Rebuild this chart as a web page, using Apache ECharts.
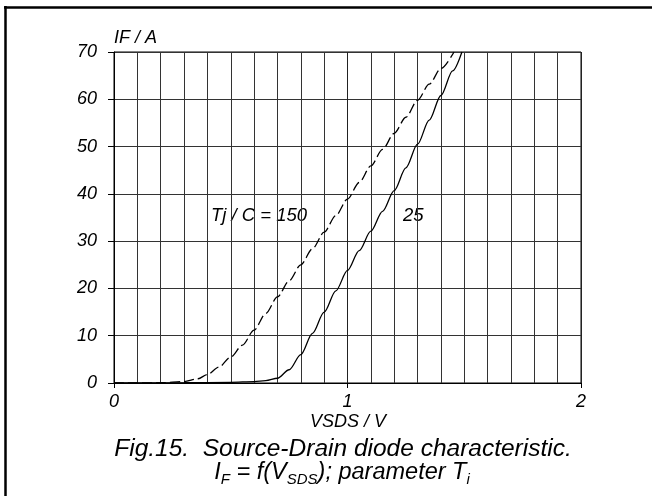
<!DOCTYPE html>
<html>
<head>
<meta charset="utf-8">
<script src="https://cdn.jsdelivr.net/npm/echarts@6/dist/echarts.min.js"></script>
<style>
html,body{margin:0;padding:0;background:#fff;}
#c{width:652px;height:496px;}
</style>
</head>
<body>
<div id="c"></div>
<script>
// Forward voltage V_SDS (V) and current I_F (A), Tj = 25 °C (solid)
var vf25 = [0, 0.3, 0.5, 0.6, 0.65, 0.7, 0.75, 0.8, 0.85, 0.9, 0.95, 1.0, 1.05, 1.1, 1.15, 1.2, 1.25, 1.3, 1.35, 1.4, 1.45, 1.49];
var if25 = [0, 0.05, 0.15, 0.3, 0.5, 1.0, 2.8, 6.0, 10.5, 15.0, 19.5, 23.8, 28.0, 32.1, 36.3, 40.7, 45.5, 50.5, 55.6, 60.8, 66.0, 70.0];
// Tj = 150 °C (dashed)
var vf150 = [0, 0.2, 0.3, 0.36, 0.4, 0.45, 0.5, 0.55, 0.6, 0.65, 0.7, 0.75, 0.8, 0.85, 0.9, 0.95, 1.0, 1.05, 1.1, 1.15, 1.2, 1.25, 1.3, 1.35, 1.4, 1.456];
var if150 = [0, 0.05, 0.3, 0.9, 1.8, 3.4, 5.5, 8.0, 11.2, 14.7, 18.2, 21.6, 25.0, 28.4, 31.9, 35.4, 38.9, 42.4, 45.9, 49.4, 52.8, 56.2, 59.8, 63.2, 66.5, 70.0];
// axis ranges / ticks
var xMin = 0, xMax = 2, xStep = 1, xMinorSplits = 10;
var yMin = 0, yMax = 70, yStep = 10;

function pairs(xs, ys){ return xs.map(function(x,i){ return [x, ys[i]]; }); }

var FONT = 'Liberation Sans, Arial, Helvetica, sans-serif';
var chart = echarts.init(document.getElementById('c'), null, {renderer:'canvas'});
chart.setOption({
  backgroundColor: '#fff',
  animation: false,
  grid: {left:114, right:71, top:52, bottom:113, show:true, borderColor:'#000', borderWidth:1, backgroundColor:'transparent', outerBoundsMode:'none'},
  xAxis: {
    type:'value', min:xMin, max:xMax, interval:xStep,
    axisLine:{show:true, lineStyle:{color:'#000', width:1}},
    axisTick:{show:true, length:5, lineStyle:{color:'#000'}},
    minorTick:{show:false, splitNumber:xMinorSplits},
    splitLine:{show:true, lineStyle:{color:'#222', width:1}},
    minorSplitLine:{show:true, lineStyle:{color:'#333', width:1}},
    axisLabel:{margin:10, color:'#000', fontSize:18, fontStyle:'italic', fontFamily:FONT}
  },
  yAxis: {
    type:'value', min:yMin, max:yMax, interval:yStep,
    axisLine:{show:true, lineStyle:{color:'#000', width:1}},
    axisTick:{show:true, length:6, lineStyle:{color:'#000'}},
    splitLine:{show:true, lineStyle:{color:'#333', width:1}},
    axisLabel:{margin:17, color:'#000', fontSize:18, fontStyle:'italic', fontFamily:FONT}
  },
  series: [
    {type:'line', name:'25', data:pairs(vf25, if25), showSymbol:false, smooth:0.3, smoothMonotone:'x',
     lineStyle:{color:'#000', width:1.3}},
    {type:'line', name:'150', data:pairs(vf150, if150), showSymbol:false, smooth:0.3, smoothMonotone:'x',
     lineStyle:{color:'#000', width:1.3, type:[10,4]}}
  ],
  graphic: [
    {type:'line', shape:{x1:5.5, y1:6, x2:5.5, y2:496}, style:{stroke:'#000', lineWidth:2.5}},
    {type:'line', shape:{x1:4, y1:7.5, x2:652, y2:7.5}, style:{stroke:'#000', lineWidth:2.5}},
    {type:'text', x:114, y:38, style:{text:'IF / A', fill:'#000', font:'italic 18px ' + FONT, textAlign:'left', textVerticalAlign:'middle'}},
    {type:'text', x:348, y:422, style:{text:'VSDS / V', fill:'#000', font:'italic 18px ' + FONT, textAlign:'center', textVerticalAlign:'middle'}},
    {type:'text', x:211, y:216, style:{text:'Tj / C = 150', fill:'#000', font:'italic 18.5px ' + FONT, textAlign:'left', textVerticalAlign:'middle'}},
    {type:'text', x:403, y:216, style:{text:'25', fill:'#000', font:'italic 18.5px ' + FONT, textAlign:'left', textVerticalAlign:'middle'}},
    {type:'text', x:343, y:449, style:{text:'Fig.15.  Source-Drain diode characteristic.', fill:'#000', font:'italic 24.5px ' + FONT, textAlign:'center', textVerticalAlign:'middle'}},
    {type:'text', x:342, y:472, style:{
      text:'{m|I}{s|F}{m| = f(V}{s|SDS}{m|); parameter T}{s|i}',
      fill:'#000', align:'center', verticalAlign:'middle',
      rich:{
        m:{fontSize:23.5, fontStyle:'italic', fontFamily:FONT, lineHeight:30, verticalAlign:'middle', fill:'#000'},
        s:{fontSize:15, fontStyle:'italic', fontFamily:FONT, lineHeight:15, verticalAlign:'bottom', fill:'#000'}
      }
    }}
  ]
});
</script>
</body>
</html>
